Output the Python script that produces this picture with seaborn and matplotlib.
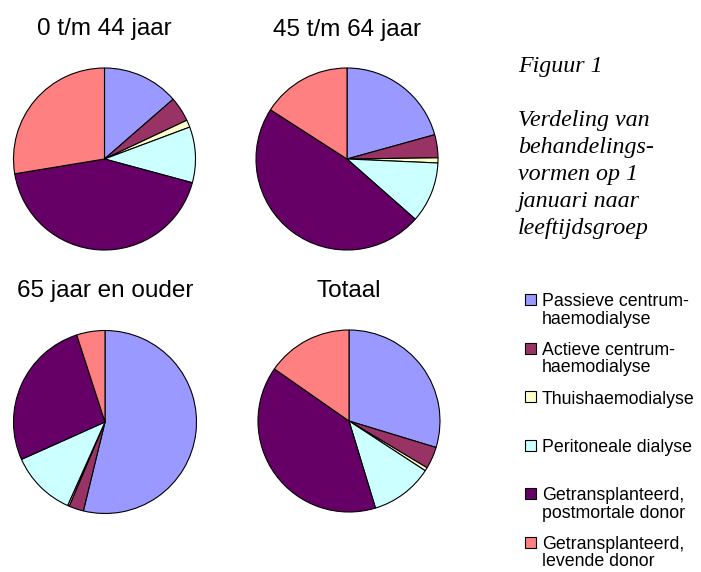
#!/usr/bin/env python3

import matplotlib
matplotlib.use("Agg")
import matplotlib.pyplot as plt
import seaborn as sns
from matplotlib.patches import Rectangle

# Behandelingsvormen (legend order, clockwise from the top of each pie)
categories = [
    "Passieve centrum-\nhaemodialyse",
    "Actieve centrum-\nhaemodialyse",
    "Thuishaemodialyse",
    "Peritoneale dialyse",
    "Getransplanteerd,\npostmortale donor",
    "Getransplanteerd,\nlevende donor",
]

# percentages per age group
groups = ["0 t/m 44 jaar", "45 t/m 64 jaar", "65 jaar en ouder", "Totaal"]
share_0_44 = [13.6, 4.4, 1.3, 9.9, 43.2, 27.6]
share_45_64 = [20.7, 4.1, 0.9, 10.8, 47.6, 15.9]
share_65_plus = [53.8, 2.6, 0.3, 11.6, 26.7, 5.0]
share_total = [29.7, 3.9, 0.6, 11.1, 39.4, 15.3]

caption = ["Figuur 1", "", "Verdeling van", "behandelings-", "vormen op 1",
           "januari naar", "leeftijdsgroep"]

colors = ["#9999FF", "#993366", "#FFFFCC", "#CCFFFF", "#660066", "#FF8080"]


def main():
    sns.set_theme(style="white")
    plt.rcParams["font.family"] = ["Liberation Sans", "DejaVu Sans"]
    palette = sns.color_palette(colors)

    W, H = 701, 572
    fig = plt.figure(figsize=(W / 100, H / 100), dpi=100)
    fig.patch.set_facecolor("white")

    # pie centre (px), radius (px), title baseline (px)
    layout = [
        ((104.5, 159), 91, 35),
        ((347, 159), 91, 36),
        ((105, 422), 91.5, 297),
        ((349, 421), 91, 297),
    ]
    series = [share_0_44, share_45_64, share_65_plus, share_total]

    pad = 1.03
    for title, values, ((cx, cy), r, ty) in zip(groups, series, layout):
        rp = r * pad
        ax = fig.add_axes([(cx - rp) / W, (H - cy - rp) / H, 2 * rp / W, 2 * rp / H])
        ax.pie(
            values,
            colors=palette,
            startangle=90,
            counterclock=False,
            radius=1,
            wedgeprops={"edgecolor": "black", "linewidth": 0.8},
        )
        ax.set_xlim(-pad, pad)
        ax.set_ylim(-pad, pad)
        ax.axis("off")
        fig.text(cx / W, 1 - ty / H, title, ha="center", va="baseline",
                 fontsize=17.5, color="black")

    # caption at the right, italic serif
    cap_y = [72, None, 126, 153, 180, 207, 234]
    for line, y in zip(caption, cap_y):
        if y is None:
            continue
        fig.text(518 / W, 1 - y / H, line, ha="left", va="baseline",
                 fontsize=17.3, style="italic", family="Liberation Serif",
                 color="black")

    # legend drawn by hand: equal slots like the Excel original
    first_baselines = [306.5 + 48.5 * i for i in range(len(categories))]
    for label, col, yb in zip(categories, palette, first_baselines):
        fig.add_artist(Rectangle((525 / W, 1 - (yb - 1.5) / H), 11 / W, 11 / H,
                                 transform=fig.transFigure, facecolor=col,
                                 edgecolor="black", linewidth=0.8))
        for j, line in enumerate(label.split("\n")):
            fig.text(542 / W, 1 - (yb + j * 17.5) / H, line, ha="left",
                     va="baseline", fontsize=12.8, color="black")

    fig.savefig("out.png", dpi=100, facecolor="white")
    plt.close(fig)


if __name__ == "__main__":
    main()
